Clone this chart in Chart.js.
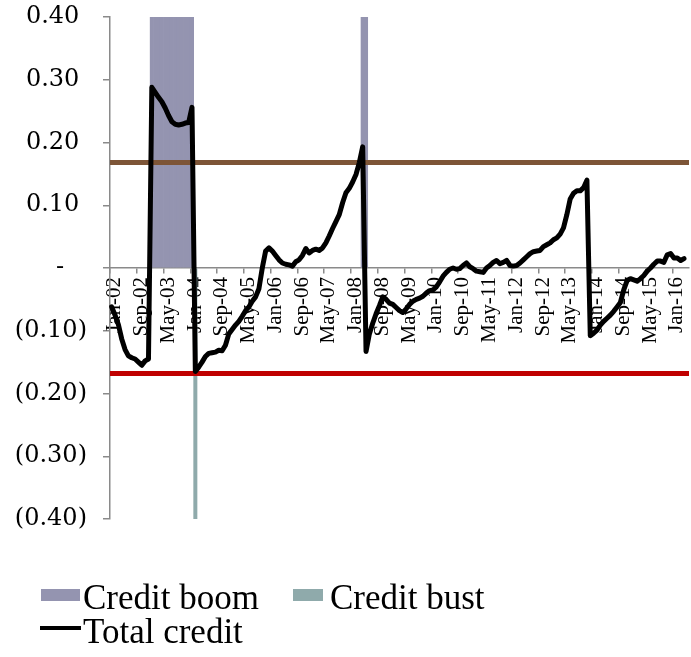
<!DOCTYPE html>
<html>
<head>
<meta charset="utf-8">
<title>Total credit gap</title>
<script src="https://cdn.jsdelivr.net/npm/chart.js@4/dist/chart.umd.min.js"></script>
<style>
  html, body { margin: 0; padding: 0; background: #ffffff; }
  #wrap { position: relative; width: 691px; height: 657px; }
</style>
</head>
<body>
<div id="wrap"><canvas id="chart"></canvas></div>
<script>
// ---- data -------------------------------------------------------------
const monthNames = ['Jan','Feb','Mar','Apr','May','Jun','Jul','Aug','Sep','Oct','Nov','Dec'];
const startYear = 2002;
const monthCount = 173;          // Jan-02 .. May-16
const labelEvery = 8;            // an axis label every eighth month

// Total credit gap, monthly
const totalCredit = [
  -0.062, -0.075, -0.090, -0.113, -0.130, -0.140, -0.143, -0.145, -0.150, -0.155, -0.148, -0.145,
   0.288,  0.280,  0.272,  0.265,  0.255,  0.243,  0.233,  0.229,  0.228,  0.229,  0.231,  0.232,  0.256,
  -0.165, -0.158, -0.150, -0.141, -0.136, -0.135, -0.134, -0.131, -0.132, -0.123, -0.105, -0.098,
  -0.091, -0.085, -0.077, -0.068, -0.062, -0.053, -0.046, -0.033,  0.000,  0.027,  0.032,  0.027,
   0.020,  0.013,  0.008,
   0.006,  0.005,  0.003,  0.010,  0.013,  0.020,  0.031,  0.024,  0.028,  0.030,  0.028,  0.032,
   0.040,  0.051,  0.063,  0.074,  0.085,  0.104,  0.120,  0.127,  0.137,  0.149,  0.168,  0.193,
  -0.133, -0.105, -0.088, -0.073, -0.060, -0.046, -0.050, -0.056, -0.058, -0.063, -0.068, -0.071,
  -0.065, -0.058, -0.053, -0.050, -0.048, -0.045, -0.040, -0.036, -0.035, -0.030, -0.022, -0.013,
  -0.007, -0.002,  0.000, -0.002, -0.001,  0.004,  0.008,  0.002, -0.001, -0.005,
  -0.006, -0.007,  0.000,  0.004,  0.009,  0.012,  0.007,  0.009,  0.012,  0.004,  0.003,  0.004,
   0.008,  0.013,  0.018,  0.023,  0.026,  0.027,  0.028,  0.034,  0.037,  0.040,  0.045,  0.048,
   0.054,  0.064,  0.085,  0.110,  0.119,  0.123,  0.123,  0.128,  0.140,
  -0.108, -0.104, -0.099, -0.091, -0.085, -0.080, -0.075, -0.069, -0.062, -0.055, -0.035, -0.020,
  -0.017, -0.019, -0.021, -0.017, -0.012, -0.005,  0.000,  0.006,  0.011,  0.011,  0.009,  0.021,
   0.023,  0.016,  0.016,  0.012,  0.015
];

// Shaded regimes (inclusive month ranges)
const boomPeriods = [['Jan-03', 'Jan-04'], ['Apr-08', 'May-08']];
const bustPeriods = [['Feb-04', 'Feb-04']];
const shadeHigh = 0.40;
const shadeLow = -0.40;

// Threshold bands
const upperThreshold = 0.168;
const lowerThreshold = -0.168;

// Value axis
const yMin = -0.40, yMax = 0.40, yStep = 0.10;

// ---- derived tables -----------------------------------------------------
const months = [];
for (let i = 0; i < monthCount; i++) {
  const y = startYear + Math.floor(i / 12);
  months.push(monthNames[i % 12] + '-' + String(y % 100).padStart(2, '0'));
}

function shadeSeries(periods, value) {
  const out = months.map(() => null);
  periods.forEach(([from, to]) => {
    const a = months.indexOf(from), b = months.indexOf(to);
    for (let i = a; i <= b; i++) out[i] = value;
  });
  return out;
}
const boomData = shadeSeries(boomPeriods, shadeHigh);
const bustData = shadeSeries(bustPeriods, shadeLow);

// ---- styling ------------------------------------------------------------
const axisGray = '#8a8a8a';
const boomColor = '#9494b0';
const bustColor = '#8faaab';
const upperColor = '#7d5537';
const lowerColor = '#c00000';

function fmtValue(v) {
  const r = Math.round(v * 100) / 100;
  if (Math.abs(r) < 1e-9) return '-   ';
  if (r > 0) return r.toFixed(2) + ' ';
  return '(' + (-r).toFixed(2) + ')';
}

// Horizontal threshold rules, painted above the shading and below the credit line
const thresholdRules = {
  id: 'thresholdRules',
  beforeDatasetDraw(chart, args) {
    if (args.meta.type !== 'line') return;
    const { ctx, chartArea, scales } = chart;
    const rules = [[upperThreshold, upperColor], [lowerThreshold, lowerColor]];
    ctx.save();
    ctx.lineWidth = 5;
    rules.forEach(([v, c]) => {
      const py = scales.y.getPixelForValue(v);
      ctx.strokeStyle = c;
      ctx.beginPath();
      ctx.moveTo(chartArea.left, py);
      ctx.lineTo(chartArea.right, py);
      ctx.stroke();
    });
    ctx.restore();
  }
};

// Legend below the plot
const legendBelow = {
  id: 'legendBelow',
  afterDraw(chart, args, opts) {
    const { ctx } = chart;
    ctx.save();
    ctx.font = opts.fontSize + 'px ' + opts.fontFamily;
    ctx.textBaseline = 'alphabetic';
    ctx.textAlign = 'left';
    opts.items.forEach(it => {
      const ds = chart.data.datasets[it.dataset];
      if (it.kind === 'box') {
        ctx.fillStyle = ds.backgroundColor;
        ctx.fillRect(it.x, it.y, it.w, it.h);
      } else {
        ctx.strokeStyle = ds.borderColor;
        ctx.lineWidth = 4;
        ctx.beginPath();
        ctx.moveTo(it.x, it.y);
        ctx.lineTo(it.x + it.w, it.y);
        ctx.stroke();
      }
      ctx.fillStyle = '#000';
      ctx.fillText(ds.label, it.textX, it.baseline);
    });
    ctx.restore();
  }
};

new Chart(document.getElementById('chart'), {
  type: 'bar',
  data: {
    labels: months,
    datasets: [
      {
        type: 'line',
        label: 'Total credit',
        data: totalCredit,
        borderColor: '#000000',
        backgroundColor: '#000000',
        borderWidth: 5,
        pointRadius: 0,
        tension: 0,
        borderJoinStyle: 'round',
        borderCapStyle: 'round',
        order: 0
      },
      {
        label: 'Credit boom',
        data: boomData,
        backgroundColor: boomColor,
        borderWidth: 0,
        grouped: false,
        categoryPercentage: 1,
        barPercentage: 1,
        order: 2
      },
      {
        label: 'Credit bust',
        data: bustData,
        backgroundColor: bustColor,
        borderWidth: 0,
        grouped: false,
        categoryPercentage: 1,
        barPercentage: 1,
        order: 1
      }
    ]
  },
  options: {
    responsive: true,
    maintainAspectRatio: false,
    animation: false,
    layout: { padding: { top: 17, left: 0, right: 2, bottom: 138 } },
    scales: {
      x: {
        position: { y: 0 },
        offset: true,
        grid: {
          offset: true,
          drawOnChartArea: false,
          drawTicks: true,
          tickLength: 5,
          lineWidth: 1.5,
          color: (c) => (c.index % labelEvery === 0 ? axisGray : 'rgba(0,0,0,0)')
        },
        border: { color: axisGray, width: 1.5 },
        ticks: {
          autoSkip: false,
          minRotation: 90,
          maxRotation: 90,
          padding: 4,
          labelOffset: 3,
          color: '#000000',
          font: { family: 'Liberation Serif', size: 21 },
          callback: (v, i) => (i % labelEvery === 0 ? months[i] : '')
        },
        afterFit: (s) => { s.paddingLeft = 0; s.paddingRight = 0; }
      },
      y: {
        min: yMin,
        max: yMax,
        grid: {
          drawOnChartArea: false,
          drawTicks: true,
          tickLength: 7,
          lineWidth: 1.5,
          color: axisGray
        },
        border: { color: axisGray, width: 1.5 },
        ticks: {
          stepSize: yStep,
          padding: 16,
          color: '#000000',
          font: { family: 'DejaVu Serif', size: 24 },
          callback: (v) => fmtValue(v)
        },
        afterFit: (s) => { s.width = 110; s.paddingTop = 0; s.paddingBottom = 0; }
      }
    },
    plugins: {
      legend: { display: false },
      tooltip: { enabled: false },
      legendBelow: {
        fontFamily: 'Liberation Serif',
        fontSize: 35,
        items: [
          { dataset: 1, kind: 'box',  x: 41,  y: 589, w: 39, h: 12, textX: 83,  baseline: 609 },
          { dataset: 2, kind: 'box',  x: 293, y: 589, w: 30, h: 12, textX: 330, baseline: 609 },
          { dataset: 0, kind: 'line', x: 40,  y: 628, w: 41, h: 0,  textX: 83,  baseline: 643 }
        ]
      }
    }
  },
  plugins: [thresholdRules, legendBelow]
});
</script>
</body>
</html>
